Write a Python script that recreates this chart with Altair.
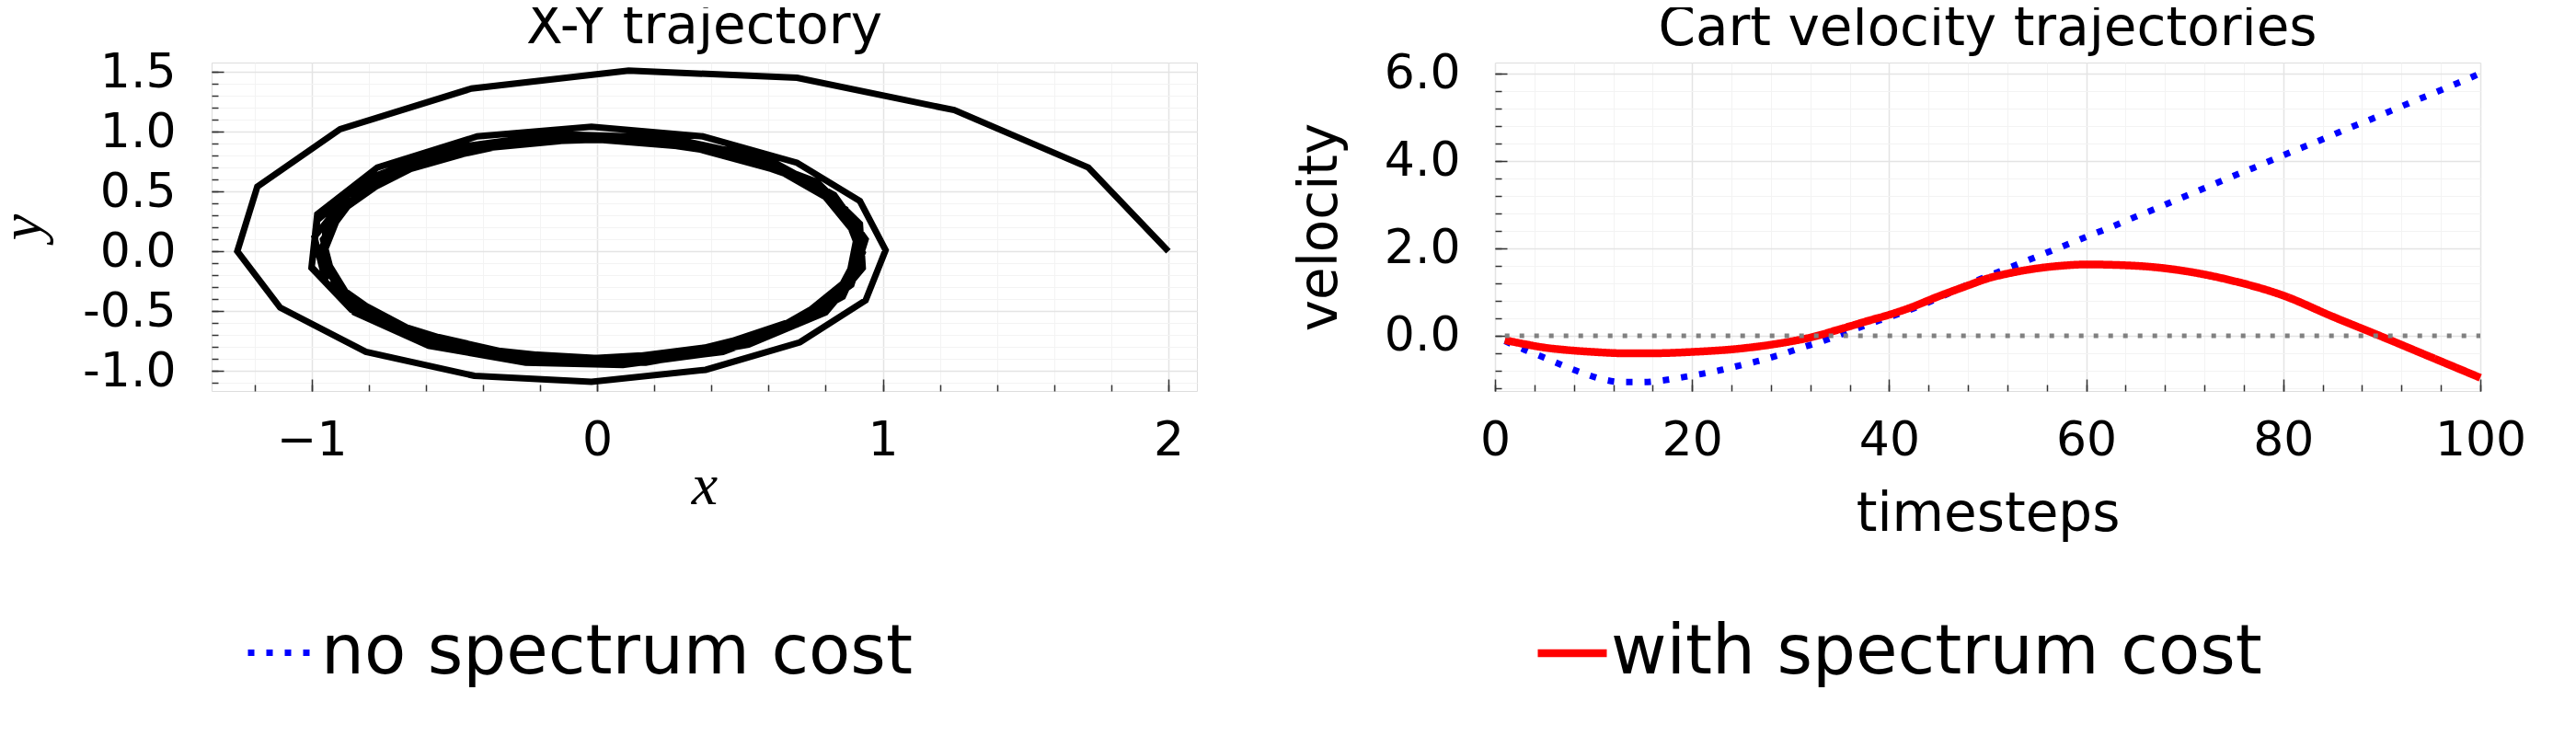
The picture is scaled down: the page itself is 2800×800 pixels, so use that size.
import altair as alt
import pandas as pd

# ---------------- data: X-Y trajectory (drawing order) ----------------
traj_x = [2.00, 1.72, 1.25, 0.70, 0.11, -0.44, -0.90, -1.19, -1.26, -1.11, -0.81, -0.43, -0.02, 0.38, 0.71, 0.94, 1.01,
          0.92, 0.70, 0.37, -0.02, -0.42, -0.77, -0.98, -1.00, -0.85, -0.59, -0.25, 0.09, 0.44, 0.70,
          0.89, 0.94, 0.83, 0.60, 0.25, -0.15, -0.52, -0.81, -0.98, -1.00, -0.86, -0.59, -0.23, 0.17, 0.53, 0.80,
          0.93, 0.92, 0.77, 0.48, 0.11, -0.28, -0.62, -0.87, -0.99, -0.95, -0.77, -0.46, -0.09, 0.30, 0.63, 0.86,
          0.93, 0.87, 0.66, 0.35, -0.02, -0.39, -0.70, -0.91, -0.97, -0.88, -0.66, -0.33, 0.05, 0.41, 0.71, 0.89,
          0.93, 0.81, 0.57, 0.23, -0.15, -0.51, -0.79, -0.95, -0.96, -0.82, -0.55, -0.20, 0.18, 0.53, 0.79, 0.92, 0.90,
          0.74, 0.45, 0.10, -0.28, -0.61, -0.85, -0.96, -0.92, -0.73, -0.43, -0.07, 0.30, 0.62, 0.84, 0.92, 0.86,
          0.64, 0.33, -0.04, -0.40, -0.71, -0.90, -0.96, -0.87, -0.64, -0.31, 0.06, 0.42, 0.71, 0.88, 0.91, 0.79]
traj_y = [0.00, 0.70, 1.18, 1.45, 1.51, 1.36, 1.02, 0.54, 0.00, -0.47, -0.84, -1.04, -1.09, -0.99, -0.76, -0.41, 0.01,
          0.42, 0.74, 0.96, 1.04, 0.96, 0.70, 0.31, -0.13, -0.51, -0.79, -0.93, -0.95, -0.84, -0.61,
          -0.28, 0.10, 0.47, 0.77, 0.95, 0.98, 0.86, 0.60, 0.26, -0.14, -0.49, -0.77, -0.93, -0.93, -0.78, -0.51,
          -0.14, 0.23, 0.58, 0.84, 0.96, 0.94, 0.76, 0.48, 0.12, -0.26, -0.59, -0.83, -0.93, -0.88, -0.68, -0.38,
          -0.01, 0.35, 0.67, 0.88, 0.95, 0.88, 0.67, 0.35, -0.01, -0.37, -0.67, -0.86, -0.91, -0.81, -0.58, -0.25,
          0.12, 0.47, 0.75, 0.92, 0.94, 0.82, 0.57, 0.23, -0.14, -0.49, -0.75, -0.89, -0.89, -0.74, -0.47, -0.13, 0.25,
          0.58, 0.82, 0.94, 0.91, 0.74, 0.45, 0.10, -0.27, -0.59, -0.81, -0.90, -0.85, -0.66, -0.36, 0.00, 0.37,
          0.67, 0.87, 0.94, 0.86, 0.65, 0.33, -0.03, -0.38, -0.67, -0.85, -0.90, -0.79, -0.56, -0.23, 0.13, 0.48]

# ---------------- data: cart velocity ----------------
t_none = [1, 3, 5, 7, 9, 11, 13, 15, 17, 19, 21, 23, 25, 27, 29, 31, 33, 35, 37, 39, 41, 43, 45, 47, 49,
          51, 53, 55, 57, 59, 61, 63, 65, 67, 69, 71, 73, 75, 77, 79, 81, 83, 85, 87, 89, 91, 93, 95, 97, 99, 100]
v_none = [-0.12, -0.32, -0.50, -0.69, -0.86, -1.00, -1.06, -1.06, -1.02, -0.95, -0.87, -0.78, -0.67, -0.56, -0.43,
          -0.28, -0.14, 0.02, 0.19, 0.35, 0.50, 0.67, 0.86, 1.07, 1.27,
          1.45, 1.63, 1.81, 1.99, 2.17, 2.35, 2.53, 2.72, 2.90, 3.09, 3.28, 3.47, 3.66, 3.84, 4.03, 4.22, 4.40, 4.59,
          4.78, 4.96, 5.15, 5.34, 5.52, 5.71, 5.90, 6.00]
t_with = [1, 3, 5, 7, 10, 13, 16, 20, 25, 30, 32, 35, 38, 40, 42, 45, 48, 50, 52, 55, 58, 60, 65, 70, 75, 80, 85, 90, 95, 100]
v_with = [-0.10, -0.19, -0.27, -0.32, -0.37, -0.40, -0.40, -0.37, -0.29, -0.13, -0.04, 0.15, 0.35, 0.48, 0.63, 0.90,
          1.15, 1.31, 1.42, 1.54, 1.61, 1.63, 1.60, 1.48, 1.25, 0.92, 0.44, -0.02, -0.49, -0.96]
zero_t = [1, 100]
zero_v = [0.0, 0.0]

series_names = ["no spectrum cost", "with spectrum cost"]
series_colors = ["#0000ff", "#ff0000"]

# ---------------- tick values ----------------
xy_x_major = [-1, 0, 1, 2]
xy_x_minor = [-1.2, -1.0, -0.8, -0.6, -0.4, -0.2, 0.0, 0.2, 0.4, 0.6, 0.8, 1.0, 1.2, 1.4, 1.6, 1.8, 2.0]
xy_y_major = [-1.0, -0.5, 0.0, 0.5, 1.0, 1.5]
xy_y_minor = [-1.1, -1.0, -0.9, -0.8, -0.7, -0.6, -0.5, -0.4, -0.3, -0.2, -0.1, 0.0, 0.1, 0.2, 0.3, 0.4,
              0.5, 0.6, 0.7, 0.8, 0.9, 1.0, 1.1, 1.2, 1.3, 1.4, 1.5]
vel_x_major = [0, 20, 40, 60, 80, 100]
vel_x_minor = [0, 4, 8, 12, 16, 20, 24, 28, 32, 36, 40, 44, 48, 52, 56, 60, 64, 68, 72, 76, 80, 84, 88, 92, 96, 100]
vel_y_major = [0.0, 2.0, 4.0, 6.0]
vel_y_minor = [-1.2, -0.8, -0.4, 0.0, 0.4, 0.8, 1.2, 1.6, 2.0, 2.4, 2.8, 3.2, 3.6, 4.0, 4.4, 4.8, 5.2, 5.6, 6.0]

W, H = 1071, 357
FONT = "DejaVu Sans"
TICK_COLOR = "#333333"

df_xy = pd.DataFrame({"i": list(range(len(traj_x))), "x": traj_x, "y": traj_y})
df_vel = pd.concat([
    pd.DataFrame({"t": t_none, "v": v_none, "series": series_names[0]}),
    pd.DataFrame({"t": t_with, "v": v_with, "series": series_names[1]}),
], ignore_index=True)
df_zero = pd.DataFrame({"t": zero_t, "v": zero_v})


def grid_axis(orient, values, color, width):
    return alt.Axis(orient=orient, values=values, grid=True, gridColor=color, gridWidth=width,
                    ticks=False, labels=False, domain=False, title=None)


def minor_axis(orient, values):
    return alt.Axis(orient=orient, values=values, grid=False, ticks=True, tickSize=7, offset=-7,
                    tickColor=TICK_COLOR, tickWidth=1.5, labels=False, domain=False, title=None)


def major_axis(orient, values, title, fmt=None, expr=None, title_font=FONT, title_style="normal",
               title_x=None, title_y=None, label_pad=39, title_size=58):
    kw = dict(orient=orient, values=values, grid=False, ticks=True, tickSize=13, offset=-13,
              tickColor=TICK_COLOR, tickWidth=1.5, domain=False, labels=True, labelFlush=False,
              labelOverlap=False,
              labelFont=FONT, labelFontSize=52, labelColor="black", labelPadding=label_pad,
              title=title, titleFont=title_font, titleFontSize=title_size, titleFontWeight="normal",
              titleFontStyle=title_style, titleColor="black", titleBaseline="alphabetic",
              titleX=title_x, titleY=title_y)
    if fmt is not None:
        kw["format"] = fmt
    if expr is not None:
        kw["labelExpr"] = expr
    if orient == "left":
        kw["titleAngle"] = 270
    return alt.Axis(**kw)


# ---------------- left panel ----------------
sx1 = alt.Scale(domain=[-1.35, 2.1], nice=False, zero=False)
sy1 = alt.Scale(domain=[-1.167, 1.577], nice=False, zero=False)

left_axes_x = [grid_axis("bottom", xy_x_minor, "#f3f3f3", 1),
               grid_axis("bottom", xy_x_major, "#e4e4e4", 1.5),
               minor_axis("bottom", xy_x_minor)]
left_axes_y = [grid_axis("left", xy_y_minor, "#f3f3f3", 1),
               grid_axis("left", xy_y_major, "#e4e4e4", 1.5),
               minor_axis("left", xy_y_minor)]

left_layers = []
for ax_x, ax_y in zip(left_axes_x, left_axes_y):
    left_layers.append(
        alt.Chart(df_xy).mark_line(strokeOpacity=0).encode(
            x=alt.X("x:Q", scale=sx1, axis=ax_x),
            y=alt.Y("y:Q", scale=sy1, axis=ax_y),
        )
    )
left_layers.append(
    alt.Chart(df_xy).mark_line(color="black", strokeWidth=7, strokeJoin="miter").encode(
        x=alt.X("x:Q", scale=sx1,
                axis=major_axis("bottom", xy_x_major, "x", fmt="d", title_font="Liberation Serif",
                                title_style="italic", title_x=W / 2, title_y=135, label_pad=28,
                                title_size=64)),
        y=alt.Y("y:Q", scale=sy1,
                axis=major_axis("left", xy_y_major, "y",
                                expr="(datum.value < 0 ? '-' : '') + format(abs(datum.value), '.1f')",
                                title_font="Liberation Serif", title_style="italic",
                                title_x=-200, title_y=H / 2, label_pad=39, title_size=64)),
        order=alt.Order("i:Q"),
    )
)

TITLE_OFFSET = -53

left = alt.layer(*left_layers).resolve_axis(x="independent", y="independent").properties(
    width=W, height=H,
    title=alt.TitleParams("X-Y trajectory", font=FONT, fontSize=58, fontWeight="normal", color="black",
                          frame="group", baseline="alphabetic", offset=TITLE_OFFSET, anchor="middle"),
)

# ---------------- right panel ----------------
sx2 = alt.Scale(domain=[0, 100], nice=False, zero=False)
sy2 = alt.Scale(domain=[-1.263, 6.246], nice=False, zero=False)

right_axes_x = [grid_axis("bottom", vel_x_minor, "#f3f3f3", 1),
                grid_axis("bottom", vel_x_major, "#e4e4e4", 1.5),
                minor_axis("bottom", vel_x_minor)]
right_axes_y = [grid_axis("left", vel_y_minor, "#f3f3f3", 1),
                grid_axis("left", vel_y_major, "#e4e4e4", 1.5),
                minor_axis("left", vel_y_minor)]

right_layers = []
for ax_x, ax_y in zip(right_axes_x, right_axes_y):
    right_layers.append(
        alt.Chart(df_zero).mark_line(strokeOpacity=0).encode(
            x=alt.X("t:Q", scale=sx2, axis=ax_x),
            y=alt.Y("v:Q", scale=sy2, axis=ax_y),
        )
    )

legend = alt.Legend(orient="none", legendX=35, legendY=600, direction="horizontal", columns=2,
                    columnPadding=662, title=None, labelFont=FONT, labelFontSize=74, labelColor="black",
                    symbolType="stroke", symbolSize=5625, symbolStrokeWidth=7, labelOffset=0,
                    labelLimit=0)

right_layers.append(
    alt.Chart(df_vel).mark_line(interpolate="monotone").encode(
        x=alt.X("t:Q", scale=sx2,
                axis=major_axis("bottom", vel_x_major, "timesteps", fmt="d",
                                title_x=W / 2, title_y=164, label_pad=28)),
        y=alt.Y("v:Q", scale=sy2,
                axis=major_axis("left", vel_y_major, "velocity", fmt=".1f",
                                title_x=-186, title_y=H / 2, label_pad=38)),
        color=alt.Color("series:N", scale=alt.Scale(domain=series_names, range=series_colors), legend=legend),
        strokeDash=alt.StrokeDash("series:N", scale=alt.Scale(domain=series_names, range=[[7, 13], [1, 0]]),
                                  legend=legend),
        strokeWidth=alt.StrokeWidth("series:N", scale=alt.Scale(domain=series_names, range=[7, 8.5]),
                                    legend=None),
    )
)
right_layers.append(
    alt.Chart(df_zero).mark_line(color="#808080", strokeWidth=5, strokeDash=[5, 11]).encode(
        x=alt.X("t:Q", scale=sx2, axis=None),
        y=alt.Y("v:Q", scale=sy2, axis=None),
    )
)

right = alt.layer(*right_layers).resolve_axis(x="independent", y="independent").properties(
    width=W, height=H,
    title=alt.TitleParams("Cart velocity trajectories", font=FONT, fontSize=58, fontWeight="normal",
                          color="black", frame="group", baseline="alphabetic", offset=TITLE_OFFSET,
                          anchor="middle"),
)

chart = alt.hconcat(left, right, spacing=324, bounds="flush").properties(
    padding={"left": -17, "top": -8, "right": 0, "bottom": 0}
).configure_view(stroke="#8a8a8a", strokeWidth=2).configure(font=FONT, background="white")

chart.save("out.html", embed_options={"renderer": "svg", "actions": False})
